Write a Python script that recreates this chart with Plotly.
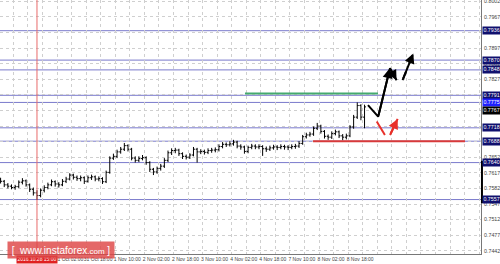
import plotly.graph_objects as go

# ---------------- data ----------------
bar_open = [0.7601,0.7598,0.7590,0.7587,0.7584,0.7586,0.7596,0.7599,0.7590,0.7580,
            0.7572,0.7566,0.7578,0.7584,0.7590,0.7597,0.7592,0.7590,0.7598,0.7603,
            0.7612,0.7607,0.7604,0.7606,0.7598,0.7606,0.7608,0.7603,0.7604,0.7597,
            0.7618,0.7650,0.7654,0.7664,0.7670,0.7678,0.7670,0.7650,0.7645,0.7649,
            0.7651,0.7640,0.7625,0.7619,0.7627,0.7632,0.7645,0.7662,0.7667,0.7668,
            0.7660,0.7654,0.7652,0.7657,0.7670,0.7664,0.7665,0.7663,0.7667,0.7668,
            0.7669,0.7676,0.7681,0.7680,0.7682,0.7686,0.7677,0.7675,0.7665,0.7674,
            0.7677,0.7675,0.7676,0.7671,0.7670,0.7673,0.7675,0.7674,0.7676,0.7675,
            0.7674,0.7676,0.7677,0.7683,0.7698,0.7702,0.7704,0.7717,0.7722,0.7710,
            0.7699,0.7697,0.7705,0.7709,0.7700,0.7697,0.7700,0.7720,0.7742,0.7768,
            0.7742]
bar_close = [0.7598,0.7590,0.7587,0.7584,0.7586,0.7596,0.7599,0.7590,0.7580,0.7572,
             0.7566,0.7578,0.7584,0.7590,0.7597,0.7592,0.7590,0.7598,0.7603,0.7612,
             0.7607,0.7604,0.7606,0.7598,0.7606,0.7608,0.7603,0.7604,0.7597,0.7618,
             0.7650,0.7654,0.7664,0.7670,0.7678,0.7670,0.7650,0.7645,0.7649,0.7651,
             0.7640,0.7625,0.7619,0.7627,0.7632,0.7645,0.7662,0.7667,0.7668,0.7660,
             0.7654,0.7652,0.7657,0.7670,0.7664,0.7665,0.7663,0.7667,0.7668,0.7669,
             0.7676,0.7681,0.7680,0.7682,0.7686,0.7677,0.7675,0.7665,0.7674,0.7677,
             0.7675,0.7676,0.7671,0.7670,0.7673,0.7675,0.7674,0.7676,0.7675,0.7674,
             0.7676,0.7677,0.7683,0.7698,0.7702,0.7704,0.7717,0.7722,0.7710,0.7699,
             0.7697,0.7705,0.7709,0.7700,0.7697,0.7700,0.7720,0.7742,0.7768,0.7742,
             0.7765]
bar_high = [0.7606,0.7601,0.7594,0.7591,0.7590,0.7600,0.7605,0.7602,0.7593,0.7584,
            0.7578,0.7582,0.7589,0.7595,0.7602,0.7600,0.7596,0.7603,0.7608,0.7616,
            0.7615,0.7611,0.7611,0.7609,0.7611,0.7613,0.7611,0.7609,0.7607,0.7622,
            0.7654,0.7660,0.7669,0.7675,0.7684,0.7681,0.7673,0.7654,0.7654,0.7657,
            0.7654,0.7643,0.7628,0.7631,0.7637,0.7650,0.7667,0.7672,0.7673,0.7671,
            0.7663,0.7658,0.7661,0.7675,0.7673,0.7670,0.7669,0.7672,0.7673,0.7674,
            0.7681,0.7686,0.7685,0.7688,0.7691,0.7689,0.7681,0.7678,0.7678,0.7682,
            0.7681,0.7681,0.7679,0.7676,0.7678,0.7680,0.7679,0.7681,0.7680,0.7679,
            0.7681,0.7682,0.7688,0.7702,0.7707,0.7709,0.7721,0.7729,0.7725,0.7713,
            0.7703,0.7710,0.7714,0.7712,0.7704,0.7705,0.7724,0.7747,0.7775,0.7771,
            0.7770]
bar_low = [0.7593,0.7585,0.7582,0.7580,0.7579,0.7583,0.7591,0.7586,0.7574,0.7566,
           0.7556,0.7562,0.7573,0.7580,0.7587,0.7586,0.7584,0.7587,0.7594,0.7600,
           0.7602,0.7599,0.7598,0.7592,0.7595,0.7601,0.7598,0.7598,0.7592,0.7594,
           0.7615,0.7646,0.7650,0.7660,0.7666,0.7665,0.7645,0.7640,0.7641,0.7645,
           0.7635,0.7619,0.7612,0.7615,0.7622,0.7628,0.7641,0.7657,0.7661,0.7655,
           0.7648,0.7647,0.7648,0.7654,0.7640,0.7659,0.7658,0.7659,0.7662,0.7663,
           0.7665,0.7672,0.7675,0.7676,0.7678,0.7672,0.7669,0.7660,0.7661,0.7670,
           0.7670,0.7670,0.7655,0.7664,0.7666,0.7669,0.7668,0.7670,0.7669,0.7668,
           0.7670,0.7671,0.7673,0.7680,0.7694,0.7698,0.7700,0.7713,0.7705,0.7694,
           0.7691,0.7693,0.7701,0.7695,0.7690,0.7692,0.7697,0.7716,0.7738,0.7735,
           0.7717]
bar_index = list(range(1, 2 * len(bar_close) + 1, 2))   # 2-hour bars on an hourly axis

level_lines = [0.7936, 0.7870, 0.7848, 0.7791, 0.7775, 0.7718, 0.7688, 0.7640, 0.7557]
level_labels = ["0.7936", "0.7870", "0.7848", "0.7791", "0.7775", "0.7718", "0.7688", "0.7640", "0.7557"]
price_label = "0.7767"
price_label_value = 0.7758

y_tick_vals = [0.8002, 0.7967, 0.7932, 0.7897, 0.7862, 0.7827, 0.7792, 0.7757, 0.7722,
               0.7687, 0.7652, 0.7617, 0.7582, 0.7547, 0.7512, 0.7477, 0.7442]
y_tick_text = ["0.8002", "0.7967", "", "0.7897", "0.7862", "0.7827", "", "", "",
               "", "0.7652", "0.7617", "0.7582", "0.7547", "0.7512", "0.7477", "0.7442"]

x_tick_text = ["27 Oct 18:00", "", "", "", "31 Oct 02:00", "", "31 Oct 18:00", "",
               "1 Nov 10:00", "", "2 Nov 02:00", "", "2 Nov 18:00", "", "3 Nov 10:00", "",
               "4 Nov 02:00", "", "4 Nov 18:00", "", "7 Nov 10:00", "", "8 Nov 02:00", "",
               "8 Nov 18:00", "", "", "", "", "", "", "", "", ""]
x_tick_vals = list(range(0, 8 * len(x_tick_text), 8))

green_level = 0.7795
green_span = [135.3, 208.4]
red_level = 0.7688
red_span = [172.7, 256.2]
marker_bar = 21
marker_label = "2016.10.28 15:00"

# forecast drawings (bar index, price)
black_path_x = [202.9, 208.5, 215.0, 218.6]
black_path_y = [0.7769, 0.7743, 0.7852, 0.7825]
black_dash_x = [221.9, 227.8]
black_dash_y = [0.7825, 0.7885]
red_seg1_x = [207.7, 212.2]
red_seg1_y = [0.7732, 0.7702]
red_seg2_x = [215.0, 219.2]
red_seg2_y = [0.7702, 0.7738]

# ---------------- figure ----------------
LINE_BLUE = "#7a7acc"
NAVY = "#10106e"
YMIN, YMAX = 0.74348, 0.80049
XMIN, XMAX = 0.68, 265.0
FONT = "Liberation Sans Narrow, Liberation Sans, Arial"

fig = go.Figure()

fig.add_trace(go.Ohlc(
    x=bar_index, open=bar_open, high=bar_high, low=bar_low, close=bar_close,
    increasing=dict(line=dict(color="black", width=1)),
    decreasing=dict(line=dict(color="black", width=1)),
    tickwidth=0.4, showlegend=False, hoverinfo="skip"))

shapes = []
for v in level_lines:
    shapes.append(dict(type="line", xref="paper", x0=0, x1=1, yref="y", y0=v, y1=v,
                       line=dict(color=LINE_BLUE, width=1), layer="below"))
shapes.append(dict(type="line", xref="x", x0=marker_bar, x1=marker_bar, yref="paper", y0=-0.02, y1=1,
                   line=dict(color="#e86a6a", width=1)))
shapes.append(dict(type="line", xref="x", x0=green_span[0], x1=green_span[1], yref="y",
                   y0=green_level, y1=green_level, line=dict(color="#44aa6e", width=2.2)))
shapes.append(dict(type="line", xref="x", x0=red_span[0], x1=red_span[1], yref="y",
                   y0=red_level, y1=red_level, line=dict(color="#d83a3a", width=2)))
shapes.append(dict(type="line", xref="paper", x0=1.002, x1=1.002, yref="y", y0=0.7549, y1=0.7644,
                   line=dict(color="black", width=2)))

fig.add_trace(go.Scatter(x=black_path_x, y=black_path_y, mode="lines",
                         line=dict(color="black", width=2), showlegend=False, hoverinfo="skip"))
fig.add_trace(go.Scatter(x=black_dash_x, y=black_dash_y, mode="lines",
                         line=dict(color="black", width=2, dash="dash"), showlegend=False, hoverinfo="skip"))
fig.add_trace(go.Scatter(x=red_seg1_x, y=red_seg1_y, mode="lines",
                         line=dict(color="#e8302a", width=2), showlegend=False, hoverinfo="skip"))
fig.add_trace(go.Scatter(x=red_seg2_x, y=red_seg2_y, mode="lines",
                         line=dict(color="#e8302a", width=2), showlegend=False, hoverinfo="skip"))

annotations = []
def arrow_head(xs, ys, color):
    annotations.append(dict(x=xs[-1], y=ys[-1], ax=xs[-2], ay=ys[-2], xref="x", yref="y",
                            axref="x", ayref="y", text="", showarrow=True, arrowhead=2,
                            arrowsize=1.0, arrowwidth=2, arrowcolor=color, standoff=0))

arrow_head(black_path_x[:3], black_path_y[:3], "black")
arrow_head(black_path_x, black_path_y, "black")
arrow_head(black_dash_x, black_dash_y, "black")
arrow_head(red_seg2_x, red_seg2_y, "#e8302a")

LBL = dict(size=5.3, color="white", family=FONT)
for v, t in zip(level_lines, level_labels):
    annotations.append(dict(x=1, xref="paper", xanchor="left", xshift=1, y=v, yref="y",
                            text=t, showarrow=False, font=LBL,
                            bgcolor="#2020ff" if t == "0.7775" else NAVY, borderpad=0.4))
annotations.append(dict(x=1, xref="paper", xanchor="left", xshift=1, y=price_label_value, yref="y",
                        text=price_label, showarrow=False, font=LBL,
                        bgcolor="black", borderpad=0.4))
annotations.append(dict(x=marker_bar, xref="x", xanchor="center", y=-0.022, yref="paper", yanchor="middle",
                        text=marker_label, showarrow=False, font=dict(size=5, color="white", family=FONT),
                        bgcolor="#e02020", borderpad=0.4))
annotations.append(dict(x=7 / 481, xref="paper", xanchor="left", y=0.015, yref="paper", yanchor="middle",
                        text="[  www.instaforex<span style='font-size:8px'>.com</span> ]",
                        showarrow=False, font=dict(size=10, color="white", family="Liberation Sans"),
                        bgcolor="rgba(222,70,70,0.82)", width=104, height=14, borderpad=1))

fig.update_layout(
    width=500, height=264, margin=dict(l=0, r=19, t=0, b=10, autoexpand=False),
    paper_bgcolor="white", plot_bgcolor="white",
    shapes=shapes, annotations=annotations, showlegend=False,
    xaxis=dict(range=[XMIN, XMAX], tickvals=x_tick_vals, ticktext=x_tick_text, tickangle=0,
               automargin=False,
               showgrid=True, gridcolor="#cfcfcf", griddash="dot", gridwidth=1,
               showline=True, linecolor="#777", linewidth=1, ticks="",
               tickfont=dict(size=5, color="#444", family=FONT),
               ticklabelshift=12, ticklabelstandoff=0, ticklabeloverflow="allow",
               rangeslider=dict(visible=False), zeroline=False, fixedrange=True),
    yaxis=dict(range=[YMIN, YMAX], side="right", tickvals=y_tick_vals, ticktext=y_tick_text,
               automargin=False,
               showgrid=True, gridcolor="#cfcfcf", griddash="dot", gridwidth=1,
               showline=True, linecolor="#777", linewidth=1, ticks="",
               tickfont=dict(size=5.3, color="#444", family=FONT),
               ticklabelstandoff=1, ticklabeloverflow="allow", zeroline=False, fixedrange=True),
)

fig.write_html("out.html")
